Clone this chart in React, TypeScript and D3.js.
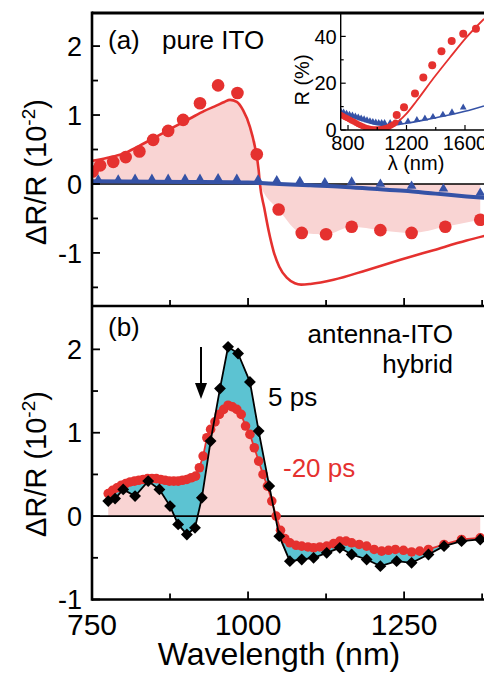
import React from 'react';
import * as d3 from 'd3';

// ---------- Panel (a): pure ITO ----------
const pureDotWl = [751, 763, 784, 804, 826, 848, 872, 896, 923, 952, 983, 1014, 1049, 1086, 1125, 1166, 1212, 1262, 1316, 1372];
const pureDotVal = [0.18, 0.27, 0.32, 0.39, 0.47, 0.64, 0.77, 0.93, 1.17, 1.43, 1.32, 0.43, -0.37, -0.71, -0.73, -0.62, -0.67, -0.71, -0.62, -0.52];

const pureFitWl = [747, 775, 800, 825, 854, 880, 907, 930, 950, 962, 971, 982, 992, 1003, 1011, 1017, 1019, 1026, 1033, 1041, 1050, 1062, 1075, 1085, 1100, 1137, 1190, 1244, 1297, 1350, 1380];
const pureFitVal = [0.33, 0.38, 0.44, 0.55, 0.69, 0.82, 0.95, 1.06, 1.14, 1.19, 1.22, 1.19, 1.07, 0.83, 0.54, 0.2, 0, -0.35, -0.68, -0.98, -1.2, -1.36, -1.44, -1.46, -1.45, -1.39, -1.25, -1.1, -0.96, -0.82, -0.75];

const triWl = [760, 792, 819, 846, 872, 899, 923, 952, 982, 1016, 1046, 1083, 1123, 1166, 1212, 1262, 1313, 1372];
const triVal = [0.06, 0.06, 0.07, 0.07, 0.07, 0.07, 0.07, 0.08, 0.07, 0.06, 0.05, 0.04, 0.02, 0.03, 0.0, -0.03, -0.07, -0.13];

const blueFitWl = [750, 900, 1000, 1050, 1100, 1150, 1200, 1250, 1300, 1350, 1380];
const blueFitVal = [0.04, 0.03, 0.02, 0.0, -0.02, -0.04, -0.07, -0.1, -0.14, -0.18, -0.2];

// ---------- Inset: reflectance ----------
const insRedLineWl = [750, 800, 850, 900, 950, 1000, 1050, 1100, 1150, 1200, 1270, 1383, 1497, 1611, 1730];
const insRedLineVal = [6.5, 5, 3.5, 2, 1, 0.4, 0.5, 1.8, 4, 7, 12.5, 22, 31, 39.7, 47.5];
const insRedDenseWl = [750, 765, 780, 795, 810, 825, 840, 855, 870, 885, 900, 915, 930, 945, 960, 975, 990, 1005, 1020, 1035, 1050, 1065, 1080, 1095, 1110, 1125];
const insRedDenseVal = [6.5, 6, 5.5, 5, 4.5, 4, 3.5, 3, 2.5, 2, 1.6, 1.2, 0.9, 0.6, 0.4, 0.3, 0.3, 0.3, 0.4, 0.5, 0.7, 1, 1.4, 1.9, 2.5, 3.2];
const insRedDotWl = [1133, 1183, 1258, 1315, 1376, 1439, 1509, 1588, 1675];
const insRedDotVal = [6.4, 9.7, 15.6, 22.4, 27.7, 33.7, 38, 41.1, 43.3];
const insBlueLineWl = [750, 800, 850, 900, 950, 1000, 1050, 1100, 1150, 1200, 1300, 1400, 1500, 1600, 1730];
const insBlueLineVal = [7.5, 6.3, 5, 4, 3, 2.3, 2, 2.1, 2.4, 2.9, 4, 5.2, 6.5, 8, 10.3];
const insTriWl = [750, 770, 790, 810, 830, 850, 870, 890, 910, 930, 950, 970, 990, 1010, 1030, 1050, 1088, 1155, 1210, 1271, 1326, 1381, 1449, 1511, 1588];
const insTriVal = [8, 7.5, 7, 6.5, 6.2, 5.8, 5.4, 5, 4.6, 4.2, 3.8, 3.5, 3.2, 3, 3, 3, 3, 3.3, 3.7, 4.3, 4.9, 5.6, 6.6, 7.6, 9.6];

// ---------- Panel (b): antenna-ITO hybrid ----------
const blackWl = [776, 787, 800, 819, 840, 858, 875, 888, 902, 915, 926, 940, 955, 968, 984, 1003, 1017, 1034, 1050, 1067, 1086, 1105, 1126, 1147, 1166, 1190, 1212, 1238, 1262, 1289, 1314, 1342, 1372];
const blackVal = [0.18, 0.21, 0.32, 0.24, 0.42, 0.32, 0.12, -0.1, -0.22, -0.14, 0.22, 0.9, 1.53, 2.03, 1.95, 1.61, 1.02, 0.36, -0.24, -0.54, -0.52, -0.5, -0.44, -0.38, -0.46, -0.52, -0.6, -0.54, -0.56, -0.46, -0.36, -0.3, -0.28];

const redWl = [776, 783, 790, 797, 804, 811, 818, 825, 832, 839, 846, 853, 860, 867, 874, 881, 888, 895, 902, 909, 916, 922, 928, 934, 940, 947, 954, 961, 968, 975, 982, 989, 996, 1003, 1010, 1017, 1024, 1031, 1038, 1045, 1052, 1059, 1067, 1077, 1086, 1096, 1105, 1115, 1126, 1137, 1147, 1157, 1166, 1178, 1190, 1202, 1214, 1225, 1236, 1249, 1262, 1275, 1289, 1314, 1342, 1372];
const redVal = [0.27, 0.31, 0.34, 0.37, 0.39, 0.41, 0.42, 0.43, 0.44, 0.45, 0.45, 0.45, 0.44, 0.43, 0.42, 0.42, 0.42, 0.43, 0.44, 0.46, 0.48, 0.58, 0.72, 0.94, 1.04, 1.13, 1.22, 1.28, 1.33, 1.31, 1.28, 1.22, 1.08, 0.98, 0.82, 0.66, 0.5, 0.36, 0.18, 0.0, -0.17, -0.27, -0.32, -0.35, -0.36, -0.37, -0.38, -0.37, -0.36, -0.33, -0.3, -0.3, -0.32, -0.34, -0.36, -0.4, -0.42, -0.41, -0.4, -0.41, -0.43, -0.42, -0.4, -0.34, -0.28, -0.26];

// ---------- Ticks ----------
const xMajor = [750, 1000, 1250];
const xMinor = [875, 1125, 1375];
const yMajorA = [-1, 0, 1, 2];
const yMinorA = [-1.5, -0.5, 0.5, 1.5];
const yMajorB = [-1, 0, 1, 2];
const yMinorB = [-0.5, 0.5, 1.5];
const insXMajor = [800, 1200, 1600];
const insXMinor = [1000, 1400];
const insYMajor = [0, 20, 40];
const insYMinor = [10, 30];

const RED = '#e5312f';
const BLUE = '#3552a6';
const PINK = '#f9d4d3';
const CYAN = '#5cc3d2';
const FONT = "'Liberation Sans', Arial, Helvetica, sans-serif";

const zip = (a: number[], b: number[]) => a.map((v, i) => [v, b[i]] as [number, number]);

export default function App() {
  const L = 92, R = 484, TOP = 13, MID = 306, BOT = 599.5;
  const x = d3.scaleLinear().domain([750, 1378]).range([L, R]);
  const yA = d3.scaleLinear().domain([-1.77, 2.48]).range([MID, TOP]);
  const yB = d3.scaleLinear().domain([-1, 2.52]).range([BOT, MID]);
  const IL = 340.7, IB = 130;
  const xI = d3.scaleLinear().domain([750, 1730]).range([IL, R]);
  const yI = d3.scaleLinear().domain([0, 50]).range([IB, TOP]);

  // panel a
  const pureDots = zip(pureDotWl, pureDotVal);
  const pureFit = zip(pureFitWl, pureFitVal);
  const fillEdge = [...pureFit.filter((d) => d[0] <= 1019), ...pureDots.filter((d) => d[0] > 1019)];
  const lineA = d3.line<[number, number]>().x((d) => x(d[0])).y((d) => yA(d[1])).curve(d3.curveMonotoneX);
  const areaA = d3.area<[number, number]>().x((d) => x(d[0])).y0(yA(0)).y1((d) => yA(d[1])).curve(d3.curveMonotoneX);

  // inset
  const lineI = d3.line<[number, number]>().x((d) => xI(d[0])).y((d) => yI(d[1])).curve(d3.curveMonotoneX);

  // panel b
  const red = zip(redWl, redVal);
  const black = zip(blackWl, blackVal);
  const redInterp = d3.scaleLinear().domain(redWl).range(redVal);
  const blackInterp = d3.scaleLinear().domain(blackWl).range(blackVal);
  const grid = d3.range(776, 1372.5, 1);
  const lineB = d3.line<[number, number]>().x((d) => x(d[0])).y((d) => yB(d[1]));
  const pinkB = d3.area<[number, number]>().x((d) => x(d[0])).y0(yB(0)).y1((d) => yB(d[1]));
  const cyanB = d3.area<number>().x((d) => x(d)).y0((d) => yB(redInterp(d))).y1((d) => yB(blackInterp(d)));

  const tri = d3.symbol(d3.symbolTriangle, 40)();
  const triSmall = d3.symbol(d3.symbolTriangle, 20)();
  const sq = d3.symbol(d3.symbolSquare, 70)();

  const yTicks = (y: d3.ScaleLinear<number, number>, major: number[], minor: number[], labels: boolean) => (
    <g>
      {major.map((t) => (
        <line key={'M' + t} x1={L} x2={L + 8} y1={y(t)} y2={y(t)} stroke="#000" strokeWidth={1.8} />
      ))}
      {minor.map((t) => (
        <line key={'m' + t} x1={L} x2={L + 6} y1={y(t)} y2={y(t)} stroke="#000" strokeWidth={1.8} />
      ))}
      {labels &&
        major.map((t) => (
          <text key={'t' + t} x={L - 10} y={y(t)} dy="0.36em" textAnchor="end" fontSize={27} fontFamily={FONT}>
            {t}
          </text>
        ))}
    </g>
  );

  const xTicks = (yb: number) => (
    <g>
      {xMajor.map((t) => (
        <line key={'M' + t} x1={x(t)} x2={x(t)} y1={yb} y2={yb - 8} stroke="#000" strokeWidth={1.8} />
      ))}
      {xMinor.map((t) => (
        <line key={'m' + t} x1={x(t)} x2={x(t)} y1={yb} y2={yb - 6} stroke="#000" strokeWidth={1.8} />
      ))}
    </g>
  );

  return (
    <svg width={484} height={674} style={{ position: 'absolute', left: 0, top: 0, background: '#fff' }} fontFamily={FONT}>
      <defs>
        <clipPath id="clipA">
          <rect x={L} y={TOP} width={R - L} height={MID - TOP} />
        </clipPath>
        <clipPath id="clipB">
          <rect x={L} y={MID} width={R - L} height={BOT - MID} />
        </clipPath>
        <clipPath id="clipI">
          <rect x={IL} y={TOP} width={R - IL} height={IB - TOP} />
        </clipPath>
      </defs>
      <rect x={0} y={0} width={484} height={674} fill="#fff" />

      {/* ---------- Panel a ---------- */}
      <g clipPath="url(#clipA)">
        <path d={areaA(fillEdge) || ''} fill={PINK} />
        <line x1={L} x2={R} y1={yA(0)} y2={yA(0)} stroke="#000" strokeWidth={1.6} />
        <path d={lineA(pureFit) || ''} fill="none" stroke={RED} strokeWidth={2.6} />
        <path d={lineA(zip(blueFitWl, blueFitVal)) || ''} fill="none" stroke={BLUE} strokeWidth={4} />
        {pureDots.map((d, i) => (
          <circle key={i} cx={x(d[0])} cy={yA(d[1])} r={6.3} fill={RED} />
        ))}
        {zip(triWl, triVal).map((d, i) => (
          <path key={i} d={tri || ''} transform={`translate(${x(d[0])},${yA(d[1])})`} fill={BLUE} />
        ))}
      </g>

      {/* ---------- Inset ---------- */}
      <rect x={IL} y={TOP} width={R - IL} height={IB - TOP} fill="#fff" />
      <g clipPath="url(#clipI)">
        <path d={lineI(zip(insBlueLineWl, insBlueLineVal)) || ''} fill="none" stroke={BLUE} strokeWidth={1.6} />
        {zip(insTriWl, insTriVal).map((d, i) => (
          <path key={i} d={triSmall || ''} transform={`translate(${xI(d[0])},${yI(d[1])})`} fill={BLUE} />
        ))}
        <path d={lineI(zip(insRedLineWl, insRedLineVal)) || ''} fill="none" stroke={RED} strokeWidth={1.8} />
        {zip(insRedDenseWl, insRedDenseVal).map((d, i) => (
          <circle key={i} cx={xI(d[0])} cy={yI(d[1])} r={3} fill={RED} />
        ))}
        {zip(insRedDotWl, insRedDotVal).map((d, i) => (
          <circle key={i} cx={xI(d[0])} cy={yI(d[1])} r={4} fill={RED} />
        ))}
      </g>
      <line x1={IL} x2={IL} y1={TOP} y2={IB} stroke="#000" strokeWidth={1.4} />
      <line x1={IL} x2={R} y1={IB} y2={IB} stroke="#000" strokeWidth={1.6} />
      {insXMajor.map((t) => (
        <line key={'ixM' + t} x1={xI(t)} x2={xI(t)} y1={IB} y2={IB - 5} stroke="#000" strokeWidth={1.2} />
      ))}
      {insXMinor.map((t) => (
        <line key={'ixm' + t} x1={xI(t)} x2={xI(t)} y1={IB} y2={IB - 3} stroke="#000" strokeWidth={1.2} />
      ))}
      {insYMajor.map((t) => (
        <line key={'iyM' + t} x1={IL} x2={IL + 5} y1={yI(t)} y2={yI(t)} stroke="#000" strokeWidth={1.2} />
      ))}
      {insYMinor.map((t) => (
        <line key={'iym' + t} x1={IL} x2={IL + 3} y1={yI(t)} y2={yI(t)} stroke="#000" strokeWidth={1.2} />
      ))}
      {insXMajor.map((t) => (
        <text key={'ixt' + t} x={xI(t)} y={150} textAnchor="middle" fontSize={20}>
          {t}
        </text>
      ))}
      {insYMajor.map((t) => (
        <text key={'iyt' + t} x={IL - 4} y={yI(t)} dy="0.36em" textAnchor="end" fontSize={20}>
          {t}
        </text>
      ))}
      <text x={416} y={170} textAnchor="middle" fontSize={20}>
        λ (nm)
      </text>
      <text transform="translate(309,80) rotate(-90)" textAnchor="middle" fontSize={20}>
        R (%)
      </text>

      {/* ---------- Panel b ---------- */}
      <g clipPath="url(#clipB)">
        <path d={pinkB(red) || ''} fill={PINK} />
        <path d={cyanB(grid) || ''} fill={CYAN} />
        <line x1={L} x2={R} y1={yB(0)} y2={yB(0)} stroke="#000" strokeWidth={1.6} />
        <path d={lineB(red) || ''} fill="none" stroke={RED} strokeWidth={1.8} />
        {red.map((d, i) => (
          <circle key={i} cx={x(d[0])} cy={yB(d[1])} r={4.8} fill={RED} />
        ))}
        <path d={lineB(black) || ''} fill="none" stroke="#000" strokeWidth={1.8} />
        {black.map((d, i) => (
          <path key={i} d={sq || ''} transform={`translate(${x(d[0])},${yB(d[1])}) rotate(45)`} fill="#000" />
        ))}
      </g>

      {/* arrow */}
      <line x1={201} x2={201} y1={347} y2={386} stroke="#000" strokeWidth={2} />
      <path d="M195,383 L207,383 L201,399 Z" fill="#000" />

      {/* frames & ticks */}
      {yTicks(yA, yMajorA, yMinorA, true)}
      {yTicks(yB, yMajorB, yMinorB, true)}
      {xTicks(MID)}
      {xTicks(BOT)}
      <line x1={L} x2={R} y1={TOP} y2={TOP} stroke="#000" strokeWidth={3} />
      <line x1={L} x2={R} y1={MID} y2={MID} stroke="#000" strokeWidth={2.6} />
      <line x1={L} x2={R} y1={BOT} y2={BOT} stroke="#000" strokeWidth={2.6} />
      <line x1={L} x2={L} y1={TOP - 1.5} y2={BOT + 1.3} stroke="#000" strokeWidth={2.6} />

      {xMajor.map((t) => (
        <text key={'xl' + t} x={x(t)} y={635} textAnchor="middle" fontSize={30}>
          {t}
        </text>
      ))}
      <text x={279} y={665} textAnchor="middle" fontSize={32}>
        Wavelength (nm)
      </text>

      {/* y titles */}
      {[172, 464].map((cy) => (
        <text key={cy} transform={`translate(46,${cy}) rotate(-90)`} textAnchor="middle" fontSize={29}>
          ΔR/R (10<tspan dy={-11} fontSize={19}>-2</tspan>
          <tspan dy={11}>)</tspan>
        </text>
      ))}

      {/* annotations */}
      <text x={108} y={49} fontSize={26}>
        (a)
      </text>
      <text x={162} y={49} fontSize={26}>
        pure ITO
      </text>
      <text x={108} y={336} fontSize={26}>
        (b)
      </text>
      <text x={453} y={343} textAnchor="end" fontSize={26}>
        antenna-ITO
      </text>
      <text x={453} y={373} textAnchor="end" fontSize={26}>
        hybrid
      </text>
      <text x={268} y={406} fontSize={26}>
        5 ps
      </text>
      <text x={283} y={477} fontSize={26} fill={RED}>
        -20 ps
      </text>
    </svg>
  );
}
